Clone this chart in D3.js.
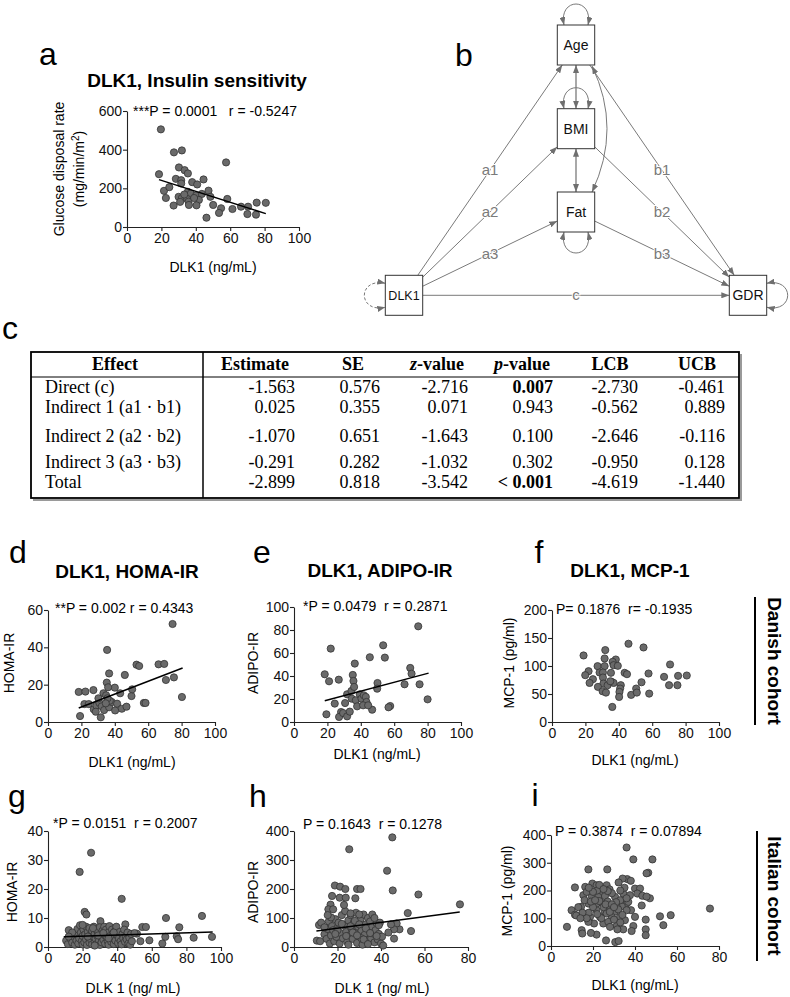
<!DOCTYPE html>
<html><head><meta charset="utf-8">
<script src="https://cdn.jsdelivr.net/npm/d3@7"></script>
<style>body{margin:0;background:#fff}</style>
</head><body>
<svg id="fig" width="790" height="997"></svg>
<script>
// ================= DATA =================
// Panel a: DLK1 (ng/mL) vs glucose disposal rate
const ptsA = [[19.7,505],[27.3,386],[31.9,396],[18.6,273],[57.6,334],[30.2,308],[33.5,294],[35.4,277],[28.4,249],[31.5,242],[31.5,225],[44.5,246],[37.9,232],[40.8,220],[21.5,187],[24.6,206],[22.6,150],[47.4,188],[35.4,182],[37.1,173],[40.2,163],[43.5,171],[41.8,140],[48.5,156],[58.3,145],[30,156],[31.9,150],[35,145],[30.9,130],[35.8,131],[36,114],[40.4,112],[27.1,111],[50.1,114],[54.7,97],[53.5,73],[46.2,48],[61.3,93],[66.3,105],[70.4,105],[75.4,126],[80.7,125],[70,67],[75,64],[33.3,168],[39,150]];
const fitA = [[18.6,245],[80.7,69]];
// Panel d: HOMA-IR (Danish)
const ptsD = [[74.6,52.5],[35.4,38.6],[36.6,26],[46,25.2],[53,30.7],[54.6,30],[66.2,30.9],[69.6,31.1],[70.6,22.5],[75.4,23.9],[80.2,13.4],[57.4,10.2],[58.4,10.2],[50,13.9],[50.4,17.5],[40,18.4],[35.2,21.1],[36,18.6],[18.4,16.1],[22.4,16.3],[27.2,17.1],[33.2,15.4],[34.8,14.3],[43.2,15.4],[19.2,3.2],[31.6,2.5],[21.8,9.6],[24.4,9.6],[27.4,6.8],[29,8.8],[30.8,10.2],[32.2,8.4],[33.6,6.4],[36.6,7.9],[38.2,10.7],[40.2,6.2],[41.4,9.8],[44.2,7.1],[47,8.2],[37,11.4],[30.2,12.7],[28.6,5.5],[35.6,12.7],[34.6,10]];
const fitD = [[18.4,7.5],[80.6,28.9]];
// Panel e: ADIPO-IR (Danish)
const ptsE = [[74.4,83.2],[22,63.8],[53.4,66.7],[54.4,56],[45.4,56.3],[36.4,50.8],[18.4,41.5],[35.2,40.9],[69.6,47],[70.4,42],[21,35.4],[26.8,36.8],[35.6,35.7],[50,33.9],[49.8,29],[66.2,32.8],[75.2,32.8],[80,19.7],[57.6,13.9],[56.6,12.8],[46.8,10.7],[19.4,6.7],[24.4,16],[28.2,8.7],[27,4.4],[29.4,7.8],[31.8,4.9],[33.4,9],[30.6,16.5],[31.8,24.1],[34.4,27],[36,30.5],[34.6,20.3],[37,18.9],[37.8,13.6],[39.4,24.1],[40.4,20.3],[41.8,23.2],[43,21.8],[43.4,17.4],[41.4,14.5],[44.4,14.5]];
const fitE = [[18.4,18.5],[80.6,42.5]];
// Panel f: MCP-1 (Danish)
const ptsF = [[18.9,118.8],[45.8,139.7],[54.8,133.1],[31.9,128.4],[31.5,113.4],[38.2,111.6],[36.3,107.5],[36.9,101.5],[27.3,99.7],[31.5,99.7],[21.9,90.7],[19.9,83.6],[24.5,76.4],[28.5,88.4],[30.5,88.4],[30.5,79.4],[35.3,87.8],[35.7,71.6],[30.8,68.7],[33.3,65.7],[36.9,69.8],[22.5,69.8],[27.5,62.7],[30.3,54.9],[32.3,52.5],[34.9,72.8],[41.2,65.7],[40.8,59.7],[40.4,53.7],[40.2,44.8],[47.4,48.4],[50.4,59.7],[50.8,52.5],[53.6,71],[43.5,87.8],[44.9,85.4],[57.8,86.6],[58.2,50.7],[67.1,80.6],[70.7,102.7],[70.1,65.7],[75.1,65.7],[75.5,82.4],[80.7,83],[36.1,26.9],[39.4,100.3]];
// Panel g: HOMA-IR (Italian)
const ptsG = [[24.9,32.5],[18.3,25.9],[42.6,16.6],[21.2,12.1],[22.2,11.2],[30.3,8.9],[68.2,10],[89,10.7],[44.7,7.8],[54.5,6.9],[56.6,6.9],[75.9,6.8],[67.8,3.5],[74.4,3.7],[75.2,2.7],[84.2,3.2],[94.8,3.5],[58.6,2.3],[53.4,2.0],[66.1,1.2],[45.3,1.2],[51.4,4.6],
[10.5,2.2],[11.5,1.0],[12,5.8],[13,2.8],[14,1.5],[15,3.5],[15.5,0.8],[16,4.5],[16.5,2.2],[17,6.2],[17.5,1.2],[18,3.0],[18.5,7.5],[19,5.0],[19.5,2.0],[20,0.9],[20,3.8],[20.5,6.0],[21,1.6],[21.5,4.4],[22,2.6],[22,7.0],[22.5,0.7],[23,5.2],[23.5,3.2],[24,1.5],[24,6.5],[24.5,4.0],[25,2.4],[25.5,0.9],[25.5,5.6],[26,3.6],[26.5,7.0],[27,1.8],[27,4.6],[27.5,2.9],[28,6.0],[28,1.0],[28.5,3.8],[29,5.2],[29.5,2.2],[30,6.8],[30,0.7],[30.5,4.2],[31,3.0],[31,1.6],[31.5,5.6],[32,2.5],[32.5,7.0],[33,4.0],[33,1.2],[33.5,6.0],[34,3.2],[34.5,2.0],[35,5.0],[35,0.8],[35.5,7.2],[36,3.8],[36.5,1.8],[37,6.0],[37,2.8],[37.5,4.6],[38,1.0],[38.5,3.5],[39,5.8],[39,2.2],[39.5,7.0],[40,4.0],[40.5,1.4],[41,3.0],[41.5,5.2],[42,2.0],[42.5,0.9],[43,4.4],[43.5,3.0],[44,6.0],[44.5,1.8],[45,3.6],[45.5,2.6],[46,5.0],[46.5,1.2],[47,3.2],[47.5,0.8],[48,4.5],[48.5,2.0],[50,4.8],[20,7.6],[26,6.5],[29,4.0],[23,3.6],[35,3.0],[38,5.0],[32,4.8],[27,0.5],[14,5.0],[12,3.6]];
const fitG = [[9.1,3.5],[95.2,5.2]];
// Panel h: ADIPO-IR (Italian)
const ptsH = [[18.8,212],[21.2,208],[23.6,200],[29,200],[30.6,200],[17.5,176],[16.8,146],[15.8,130],[21,170],[23.8,170],[28.2,168],[25.4,337],[45.2,378],[42.8,263],[45.4,195],[57.2,181],[76.3,147],[52.3,117],[53.8,55],[48.5,61],[47.2,81],[46,61],[43.4,50],[46,29],[44.6,78],
[10.5,22],[12,20],[11.5,76],[12.5,84],[14,44],[15,28],[15.5,62],[16,88],[16.5,12],[17,40],[17.5,72],[18,58],[18.5,20],[19,96],[19.5,35],[20,66],[20.5,84],[21,12],[21.5,48],[22,110],[22.5,30],[23,75],[23.5,124],[24,52],[24.5,18],[25,92],[25.5,40],[26,110],[26.5,62],[27,28],[27.5,84],[28,48],[28.5,118],[29,14],[29.5,70],[30,36],[30.5,95],[31,56],[31.5,8],[32,112],[32.5,42],[33,78],[33.5,24],[34,100],[34.5,60],[35,88],[35.5,30],[36,70],[36.5,46],[37,16],[37.5,58],[38,82],[38.5,26],[39,45],[39.5,84],[40,12],[40.5,36],[41,5],[24,38],[26,72],[28,90],[30,112],[33,64],[36,112],[20,58],[22,80],[19,45],[27,50],[31,30],[35,48],[38,38],[14,68],[17,102],[25,8],[29,40],[32,26],[34,10],[23,145],[15.5,110],[26,116],[30,78],[37,100],[39,75],[18,130]];
const fitH = [[10.3,55],[76.2,121]];
// Panel i: MCP-1 (Italian)
const ptsI = [[36,355],[39.2,312],[48.3,312],[46.3,264],[45.5,262],[17.8,276],[26.8,276],[36.3,241],[34.1,243],[32.2,229],[75.7,135],[51.9,107],[57,111],[53.5,75],[45.1,95],[43.2,146],[45.1,60],[45.1,39],[39.2,72],[38.4,54],[34.4,60],[31.3,72],[31.6,60],[30.6,14],[32.2,18],[26.2,20],[21.7,41],[19,47],[14.6,57],[14.9,45],[7.6,69],[11.4,211],[9.8,129],[11.4,113],[14.3,141],[16.3,213],[19.7,225],[21.7,219],[26.5,219],[27.9,204],[24.1,189],[40,207],[42.4,207],[41.1,189],[43.5,181],[47.1,172],[45.5,178],[40,105],[38.1,129],[36,153],[33.7,143],[32.9,105],[30.2,123],[28.1,139],[28.9,105],[25.7,123],[24.1,155],[23.3,105],[21.7,129],[20.5,81],[18.6,105],[17.8,87],[16.2,105],[17.8,153],[19.4,180],[15.4,183],[17,195],[22.5,177],[25.7,180],[30.5,177],[33,165],[34.4,189],[36.8,159],[37.6,183],[24.9,81],[27.3,87],[28.1,69],[35.2,93],[21.7,153],[26.5,117],[31.3,141],[36,129],[16,165],[18,120],[20,140],[22,200],[23,162],[25,140],[27,160],[29,190],[31,158],[32,132],[34,112],[13,140],[15,120],[17,100],[19,160],[24,100],[26,150],[28,123],[30,95],[33,85],[12,110],[20,195],[22,115],[27,198],[29,150],[35,210],[38,235],[23,220],[18,210],[14,100],[21,165],[25,205],[30,140],[33,200],[36,172]];

// Titles / annotations / axis titles
const titles = {a:"DLK1, Insulin sensitivity", d:"DLK1, HOMA-IR", e:"DLK1, ADIPO-IR", f:"DLK1, MCP-1"};
const annots = {a:"***P = 0.0001   r = -0.5247", d:"**P = 0.002 r = 0.4343", e:"*P = 0.0479  r = 0.2871", f:"P= 0.1876  r= -0.1935", g:"*P = 0.0151  r = 0.2007", h:"P = 0.1643  r = 0.1278", i:"P = 0.3874  r = 0.07894"};
const xTitles = {a:"DLK1 (ng/mL)", d:"DLK1 (ng/mL)", e:"DLK1 (ng/mL)", f:"DLK1 (ng/mL)", g:"DLK 1 (ng/ mL)", h:"DLK 1 (ng/ mL)", i:"DLK1 (ng/mL)"};
const yTitles = {d:"HOMA-IR", e:"ADIPO-IR", f:"MCP-1 (pg/ml)", g:"HOMA-IR", h:"ADIPO-IR", i:"MCP-1 (pg/ml)"};
const cohorts = ["Danish cohort","Italian cohort"];
// Tick values
const ticks0to100 = [0,20,40,60,80,100];
const ticks0to80 = [0,20,40,60,80];
const yTicksA = [0,200,400,600], yTicksD=[0,20,40,60], yTicksE=[0,20,40,60,80,100], yTicksF=[0,50,100,150,200], yTicksG=[0,10,20,30,40], yTicksHI=[0,100,200,300,400];

// SEM diagram
const semNodes = ["Age","BMI","Fat","DLK1","GDR"];
const semEdges = [["DLK1","Age","a1"],["DLK1","BMI","a2"],["DLK1","Fat","a3"],["DLK1","GDR","c"],["Age","GDR","b1"],["BMI","GDR","b2"],["Fat","GDR","b3"]];
const semCov = [["Age","BMI"],["BMI","Fat"]];

// Table
const tableHead = ["Effect","Estimate","SE","z-value","p-value","LCB","UCB"];
const effects = ["Direct (c)","Indirect 1 (a1 \u00b7 b1)","Indirect 2 (a2 \u00b7 b2)","Indirect 3 (a3 \u00b7 b3)","Total"];
const estimate = [-1.563,0.025,-1.070,-0.291,-2.899];
const se = [0.576,0.355,0.651,0.282,0.818];
const zval = [-2.716,0.071,-1.643,-1.032,-3.542];
const pval = ["0.007","0.943","0.100","0.302","< 0.001"];
const pBold = [true,false,false,false,true];
const lcb = [-2.730,-0.562,-2.646,-0.950,-4.619];
const ucb = [-0.461,0.889,-0.116,0.128,-1.440];

// ================= LAYOUT =================
const SANS = "'Liberation Sans', Arial, Helvetica, sans-serif";
const SERIF = "'Liberation Serif', 'Times New Roman', serif";
const svg = d3.select("#fig").style("font-family", SANS);
svg.append("rect").attr("width",790).attr("height",997).attr("fill","#fff");

const P = {
  a:{x0:127,x1:299,y0:227,y1:111,xd:[0,100],yd:[0,600],xt:ticks0to100,yt:yTicksA,pts:ptsA,fit:fitA,
     letter:[48,65],title:[197,87],annot:[133,116],xt_pos:[213,272]},
  d:{x0:48,x1:215,y0:722,y1:610,xd:[0,100],yd:[0,60],xt:ticks0to100,yt:yTicksD,pts:ptsD,fit:fitD,
     letter:[18,563],title:[127,578],annot:[55,613],xt_pos:[132,767],yt_pos:[13.5,663]},
  e:{x0:294,x1:461,y0:722,y1:607,xd:[0,100],yd:[0,100],xt:ticks0to100,yt:yTicksE,pts:ptsE,fit:fitE,
     letter:[262,563],title:[380,577],annot:[303,611],xt_pos:[377,759],yt_pos:[258,663]},
  f:{x0:552,x1:719,y0:722,y1:610,xd:[0,100],yd:[0,200],xt:ticks0to100,yt:yTicksF,pts:ptsF,fit:null,
     letter:[539,563],title:[630,577],annot:[556,614],xt_pos:[635,765],yt_pos:[514,663]},
  g:{x0:48,x1:221,y0:947,y1:831,xd:[0,100],yd:[0,40],xt:ticks0to100,yt:yTicksG,pts:ptsG,fit:fitG,
     letter:[17,807],annot:[53,828],xt_pos:[133,993],yt_pos:[16.5,892]},
  h:{x0:294,x1:468,y0:947,y1:831,xd:[0,80],yd:[0,400],xt:ticks0to80,yt:yTicksHI,pts:ptsH,fit:fitH,
     letter:[258,807],annot:[303,829],xt_pos:[382,993],yt_pos:[258,892]},
  i:{x0:551,x1:719,y0:946,y1:835,xd:[0,80],yd:[0,400],xt:ticks0to80,yt:yTicksHI,pts:ptsI,fit:null,
     letter:[535,806],annot:[555,836],xt_pos:[635,990],yt_pos:[512,891]}
};

function letter(ch, x, y){
  svg.append("text").attr("x",x).attr("y",y).attr("text-anchor","middle")
    .attr("font-size",32).attr("fill","#000").text(ch);
}

function scatter(key){
  const c = P[key];
  const g = svg.append("g");
  const x = d3.scaleLinear().domain(c.xd).range([c.x0,c.x1]);
  const y = d3.scaleLinear().domain(c.yd).range([c.y0,c.y1]);
  const xa = g.append("g").attr("transform",`translate(0,${c.y0})`)
    .call(d3.axisBottom(x).tickValues(c.xt).tickSize(4).tickSizeOuter(0).tickPadding(2).tickFormat(d3.format("d")));
  const ya = g.append("g").attr("transform",`translate(${c.x0},0)`)
    .call(d3.axisLeft(y).tickValues(c.yt).tickSize(4).tickSizeOuter(0).tickPadding(1).tickFormat(d3.format("d")));
  [xa,ya].forEach(a=>{
    a.attr("font-family",SANS).attr("font-size",14);
    a.selectAll("path,line").attr("stroke","#222").attr("stroke-width",1.1);
    a.selectAll("text").attr("fill","#111");
  });
  g.append("g").selectAll("circle").data(c.pts).join("circle")
    .attr("cx",d=>x(d[0])).attr("cy",d=>y(d[1])).attr("r",3.6)
    .attr("fill","#6a6a6a").attr("stroke","#333").attr("stroke-width",0.8);
  if(c.fit){
    g.append("path").attr("d",d3.line().x(d=>x(d[0])).y(d=>y(d[1]))(c.fit))
      .attr("stroke","#000").attr("stroke-width",1.5).attr("fill","none");
  }
  letter(key, c.letter[0], c.letter[1]);
  if(titles[key]) g.append("text").attr("x",c.title[0]).attr("y",c.title[1]).attr("text-anchor","middle")
    .attr("font-size",19).attr("font-weight","bold").text(titles[key]);
  g.append("text").attr("x",c.annot[0]).attr("y",c.annot[1]).attr("font-size",14)
    .style("white-space","pre").text(annots[key]);
  g.append("text").attr("x",c.xt_pos[0]).attr("y",c.xt_pos[1]).attr("text-anchor","middle")
    .attr("font-size",14).text(xTitles[key]);
  if(yTitles[key]) g.append("text").attr("transform",`translate(${c.yt_pos[0]},${c.yt_pos[1]}) rotate(-90)`)
    .attr("text-anchor","middle").attr("font-size",14).text(yTitles[key]);
}

["a","d","e","f","g","h","i"].forEach(scatter);

// Panel a y title (two lines)
{
  svg.append("text").attr("transform","translate(64,169) rotate(-90)").attr("text-anchor","middle")
    .attr("font-size",14).text("Glucose disposal rate");
  const t = svg.append("text").attr("transform","translate(84,169) rotate(-90)").attr("text-anchor","middle")
    .attr("font-size",14);
  t.append("tspan").text("(mg/min/m");
  t.append("tspan").attr("dy",-5).attr("font-size",10).text("2");
  t.append("tspan").attr("dy",5).text(")");
}

// Cohort labels
[[cohorts[0],755,597,725,768,661],[cohorts[1],757,831,961,768,896]].forEach(([txt,lx,ly0,ly1,tx,ty])=>{
  svg.append("line").attr("x1",lx).attr("x2",lx).attr("y1",ly0).attr("y2",ly1).attr("stroke","#000").attr("stroke-width",2);
  svg.append("text").attr("transform",`translate(${tx},${ty}) rotate(90)`).attr("text-anchor","middle")
    .attr("font-size",19).attr("font-weight","bold").text(txt);
});

// ================= SEM DIAGRAM (b) =================
letter("b",464,66);
const nodePos = {Age:[576,45],BMI:[576,128.7],Fat:[576,212],DLK1:[404,295.3],GDR:[748,295.3]};
const hw = 18.7, hh = 20;
const defs = svg.append("defs");
defs.append("marker").attr("id","arr").attr("viewBox","0 0 8 6").attr("refX",8).attr("refY",3)
  .attr("markerWidth",8).attr("markerHeight",6).attr("markerUnits","userSpaceOnUse")
  .attr("orient","auto-start-reverse")
  .append("path").attr("d","M0,0 L8,3 L0,6 z").attr("fill","#6f6f6f");
const EC = "#7a7a7a";
function clip(a,b){
  const dx=b[0]-a[0], dy=b[1]-a[1];
  const t=Math.min(dx? hw/Math.abs(dx):Infinity, dy? hh/Math.abs(dy):Infinity);
  return [a[0]+dx*t, a[1]+dy*t];
}
const sem = svg.append("g");
semEdges.forEach(([f,t,lab])=>{
  const A=nodePos[f], B=nodePos[t];
  const p1=clip(A,B), p2=clip(B,A);
  sem.append("line").attr("x1",p1[0]).attr("y1",p1[1]).attr("x2",p2[0]).attr("y2",p2[1])
    .attr("stroke",EC).attr("stroke-width",1).attr("marker-end","url(#arr)");
  sem.append("text").attr("x",(p1[0]+p2[0])/2).attr("y",(p1[1]+p2[1])/2+5).attr("text-anchor","middle")
    .attr("font-size",15).attr("fill","#7a7a7a").attr("stroke","#fff").attr("stroke-width",2)
    .attr("paint-order","stroke").text(lab);
});
semCov.forEach(([f,t])=>{
  const A=nodePos[f], B=nodePos[t];
  const p1=clip(A,B), p2=clip(B,A);
  sem.append("line").attr("x1",p1[0]).attr("y1",p1[1]).attr("x2",p2[0]).attr("y2",p2[1])
    .attr("stroke",EC).attr("stroke-width",1.3).attr("marker-start","url(#arr)").attr("marker-end","url(#arr)");
});
// Age-Fat curved covariance
{
  const A=nodePos.Age, F=nodePos.Fat;
  sem.append("path").attr("d",`M${A[0]+16},${A[1]+hh+1} Q${A[0]+46},${(A[1]+F[1])/2} ${F[0]+16},${F[1]-hh}`)
    .attr("fill","none").attr("stroke",EC).attr("stroke-width",1)
    .attr("marker-start","url(#arr)").attr("marker-end","url(#arr)");
}
// Self loops
function loop(node, side, dashed){
  const [cx,cy]=nodePos[node]; let d;
  const o=28, s=12;
  if(side==="top"){ const y=cy-hh; d=`M${cx-s},${y} C${cx-s-6},${y-o} ${cx+s+6},${y-o} ${cx+s},${y}`; }
  if(side==="bottom"){ const y=cy+hh; d=`M${cx-s},${y} C${cx-s-6},${y+o} ${cx+s+6},${y+o} ${cx+s},${y}`; }
  if(side==="right"){ const x=cx+hw; d=`M${x},${cy-s} C${x+o},${cy-s-6} ${x+o},${cy+s+6} ${x},${cy+s}`; }
  if(side==="left"){ const x=cx-hw; d=`M${x},${cy-s} C${x-o},${cy-s-6} ${x-o},${cy+s+6} ${x},${cy+s}`; }
  sem.append("path").attr("d",d).attr("fill","none").attr("stroke",EC).attr("stroke-width",1)
    .attr("stroke-dasharray",dashed?"3,2":null)
    .attr("marker-start","url(#arr)").attr("marker-end","url(#arr)");
}
loop("Age","top"); loop("BMI","top"); loop("Fat","bottom"); loop("GDR","right"); loop("DLK1","left",true);
semNodes.forEach(n=>{
  const [cx,cy]=nodePos[n];
  sem.append("rect").attr("x",cx-hw).attr("y",cy-hh).attr("width",2*hw).attr("height",2*hh)
    .attr("fill","#fff").attr("stroke","#333").attr("stroke-width",1);
  sem.append("text").attr("x",cx).attr("y",cy+5).attr("text-anchor","middle")
    .attr("font-size",n==="DLK1"?12.5:14).attr("fill","#111").text(n);
});

// ================= TABLE (c) =================
letter("c",10,339);
{
  const T = {x0:31,x1:739,y0:352,y1:498,div:203,hline:377};
  const tg = svg.append("g").attr("font-family",SERIF).attr("font-size",18).attr("fill","#000");
  tg.append("path").attr("d",`M${T.x1+2},${T.y0+2} V${T.y1+2} H${T.x0+2}`).attr("fill","none")
    .attr("stroke","#9a9a9a").attr("stroke-width",2);
  tg.append("rect").attr("x",T.x0).attr("y",T.y0).attr("width",T.x1-T.x0).attr("height",T.y1-T.y0)
    .attr("fill","none").attr("stroke","#000").attr("stroke-width",1.8);
  tg.append("line").attr("x1",T.x0).attr("x2",T.x1).attr("y1",T.hline).attr("y2",T.hline).attr("stroke","#000").attr("stroke-width",1);
  tg.append("line").attr("x1",T.div).attr("x2",T.div).attr("y1",T.y0).attr("y2",T.y1).attr("stroke","#000").attr("stroke-width",1.5);
  const headX = [115,255,353,437,522,610,697];
  tableHead.forEach((h,i)=>{
    const t = tg.append("text").attr("x",headX[i]).attr("y",370).attr("text-anchor","middle").attr("font-weight","bold");
    if(h==="z-value"||h==="p-value"){
      t.append("tspan").attr("font-style","italic").text(h[0]);
      t.append("tspan").text(h.slice(1));
    } else t.text(h);
  });
  const rowY = [393,413,442,468,488];
  const colR = [295,380,468,553,638,725];
  const fmt = v=>v.toFixed(3);
  const cols = [estimate.map(fmt), se.map(fmt), zval.map(fmt), pval, lcb.map(fmt), ucb.map(fmt)];
  effects.forEach((e,r)=>{
    tg.append("text").attr("x",45).attr("y",rowY[r]).text(e);
    cols.forEach((col,ci)=>{
      const t = tg.append("text").attr("x",colR[ci]).attr("y",rowY[r]).attr("text-anchor","end").text(col[r]);
      if(ci===3 && pBold[r]) t.attr("font-weight","bold");
    });
  });
}
</script>
</body></html>
